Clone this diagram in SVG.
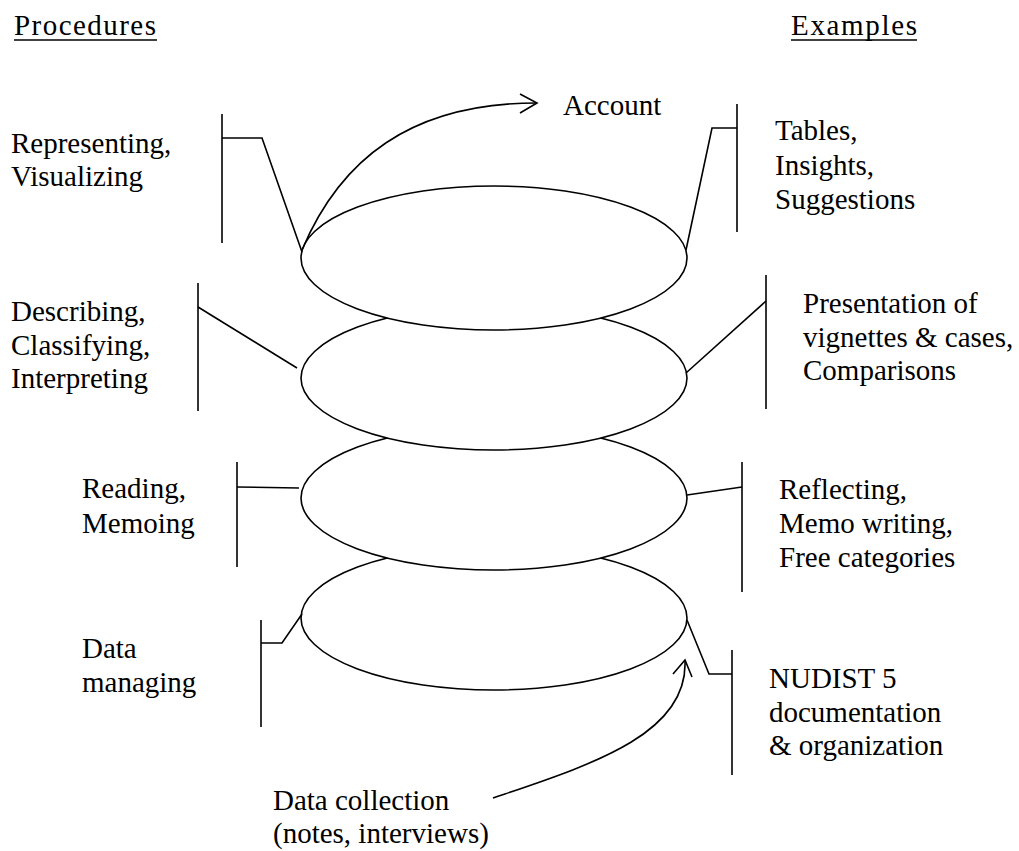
<svg xmlns="http://www.w3.org/2000/svg" width="1019" height="851" viewBox="0 0 1019 851">
<style>
  text { font-family: 'Liberation Serif', 'DejaVu Serif', serif; font-size: 29px; fill: #000; }
  .ell { fill: #fff; stroke: #000; stroke-width: 1.6; }
  .ln { fill: none; stroke: #000; stroke-width: 1.6; stroke-linejoin: miter; }
  .ul { stroke: #000; stroke-width: 1.5; }
</style>
<rect width="1019" height="851" fill="#fff"/>

<g id="headings">
  <text x="14" y="35" textLength="142" lengthAdjust="spacing">Procedures</text>
  <line class="ul" x1="14" y1="40" x2="157" y2="40"/>
  <text x="791" y="35" textLength="126" lengthAdjust="spacing">Examples</text>
  <line class="ul" x1="791" y1="40" x2="917" y2="40"/>
</g>

<g id="ellipse-data-managing"><ellipse class="ell" cx="494" cy="618" rx="193" ry="72"/></g>
<g id="ellipse-reading"><ellipse class="ell" cx="494" cy="498" rx="193" ry="72"/></g>
<g id="ellipse-describing"><ellipse class="ell" cx="494" cy="378" rx="193" ry="72"/></g>
<g id="ellipse-representing"><ellipse class="ell" cx="494" cy="258" rx="193" ry="72"/></g>

<g id="connectors">
  <!-- level 1 -->
  <line class="ln" x1="222" y1="114" x2="222" y2="243"/>
  <polyline class="ln" points="222,138 262,138 302,252"/>
  <line class="ln" x1="737" y1="104" x2="737" y2="232"/>
  <polyline class="ln" points="737,128 712,128 686,250"/>
  <!-- level 2 -->
  <line class="ln" x1="198" y1="283" x2="198" y2="411"/>
  <line class="ln" x1="198" y1="307" x2="297" y2="368"/>
  <line class="ln" x1="766" y1="275" x2="766" y2="409"/>
  <line class="ln" x1="766" y1="301" x2="686" y2="373"/>
  <!-- level 3 -->
  <line class="ln" x1="237" y1="462" x2="237" y2="567"/>
  <line class="ln" x1="237" y1="487" x2="299" y2="488"/>
  <line class="ln" x1="742" y1="462" x2="742" y2="592"/>
  <line class="ln" x1="742" y1="487" x2="687" y2="495"/>
  <!-- level 4 -->
  <line class="ln" x1="261" y1="620" x2="261" y2="727"/>
  <polyline class="ln" points="261,643 282,643 302,614"/>
  <line class="ln" x1="732" y1="650" x2="732" y2="775"/>
  <polyline class="ln" points="732,674 709,674 687,620"/>
  <!-- Account arrow -->
  <path class="ln" d="M302,250 C340,160 410,103 537,103"/>
  <polyline class="ln" points="520,94 537,103 520,113"/>
  <!-- Data collection arrow -->
  <path class="ln" d="M493,798 C590,765 688,735 685,661"/>
  <polyline class="ln" points="673,674 685,660 692,677"/>
</g>

<g id="label-account"><text x="563" y="115">Account</text></g>

<g id="label-representing">
  <text x="11" y="153">Representing,</text>
  <text x="11" y="186">Visualizing</text>
</g>
<g id="label-tables">
  <text x="775" y="140">Tables,</text>
  <text x="775" y="175">Insights,</text>
  <text x="775" y="209">Suggestions</text>
</g>
<g id="label-describing">
  <text x="11" y="321">Describing,</text>
  <text x="11" y="355">Classifying,</text>
  <text x="11" y="388">Interpreting</text>
</g>
<g id="label-presentation">
  <text x="803" y="313">Presentation of</text>
  <text x="803" y="347">vignettes &amp; cases,</text>
  <text x="803" y="380">Comparisons</text>
</g>
<g id="label-reading">
  <text x="82" y="498">Reading,</text>
  <text x="82" y="533">Memoing</text>
</g>
<g id="label-reflecting">
  <text x="779" y="499">Reflecting,</text>
  <text x="779" y="533">Memo writing,</text>
  <text x="779" y="567">Free categories</text>
</g>
<g id="label-data-managing">
  <text x="82" y="658">Data</text>
  <text x="82" y="692">managing</text>
</g>
<g id="label-nudist">
  <text x="769" y="688">NUDIST 5</text>
  <text x="769" y="722">documentation</text>
  <text x="769" y="755">&amp; organization</text>
</g>
<g id="label-data-collection">
  <text x="273" y="810">Data collection</text>
  <text x="273" y="843">(notes, interviews)</text>
</g>
</svg>
